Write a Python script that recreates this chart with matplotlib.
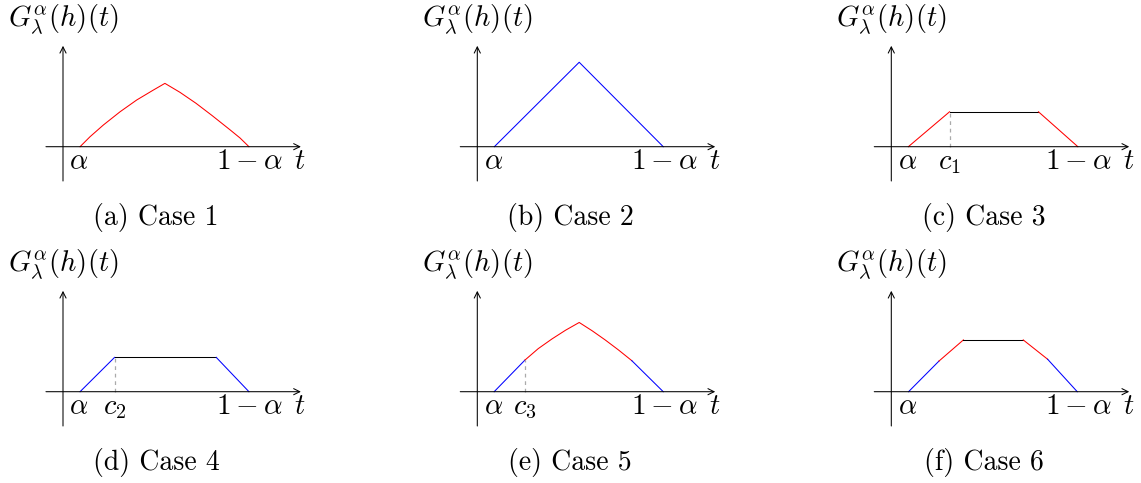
import matplotlib
matplotlib.use("Agg")
import matplotlib.pyplot as plt

plt.rcParams['mathtext.fontset'] = 'cm'

# values, t and G in the same units (origin at axes cross)
alpha = 0.084
one_minus_alpha = 0.916

case1_t = [0.084, 0.133, 0.199, 0.281, 0.363, 0.445, 0.502, 0.576, 0.655, 0.735, 0.823, 0.872, 0.916]
case1_g = [0.0, 0.049, 0.107, 0.172, 0.230, 0.279, 0.312, 0.268, 0.214, 0.153, 0.083, 0.043, 0.0]

case2_t = [0.084, 0.502, 0.916]
case2_g = [0.0, 0.416, 0.0]

case3_c1 = 0.287
case3_t = [0.084, 0.287, 0.725, 0.919]
case3_g = [0.0, 0.172, 0.172, 0.0]

case4_c2 = 0.254
case4_t = [0.084, 0.254, 0.755, 0.916]
case4_g = [0.0, 0.169, 0.169, 0.0]

case5_c3 = 0.235
case5_t = [0.083, 0.235, 0.300, 0.368, 0.435, 0.502, 0.566, 0.630, 0.695, 0.761, 0.916]
case5_g = [0.0, 0.156, 0.212, 0.260, 0.303, 0.341, 0.300, 0.255, 0.206, 0.153, 0.0]

case6_t = [0.085, 0.235, 0.355, 0.650, 0.770, 0.916]
case6_g = [0.0, 0.151, 0.255, 0.255, 0.160, 0.0]

captions = ['(a) Case 1', '(b) Case 2', '(c) Case 3', '(d) Case 4', '(e) Case 5', '(f) Case 6']

W, H = 1141, 483
fig = plt.figure(figsize=(W / 100, H / 100), dpi=100)

scale = 203.0  # px per unit
origins_x = [63, 477.3, 891.3]
origins_y = [146.7, 391.7]
LW = 0.75
FS = 20.5


def make_ax(row, col):
    x0 = origins_x[col]
    y0 = origins_y[row]
    left, right = x0 - 63, x0 + 351
    top, bottom = y0 - 146, y0 + 90
    ax = fig.add_axes([left / W, 1 - bottom / H, (right - left) / W, (bottom - top) / H])
    ax.set_xlim(-63 / scale, 351 / scale)
    ax.set_ylim(-90 / scale, 146 / scale)
    ax.axis('off')
    # axes with arrows
    ax.annotate('', xy=(1.172, 0), xytext=(-0.084, 0),
                arrowprops=dict(arrowstyle='->', lw=LW, color='black',
                                shrinkA=0, shrinkB=0, mutation_scale=11))
    ax.annotate('', xy=(0, 0.497), xytext=(0, -0.169),
                arrowprops=dict(arrowstyle='->', lw=LW, color='black',
                                shrinkA=0, shrinkB=0, mutation_scale=11))
    ax.text(-0.272, 0.625, r'$G^{\alpha}_{\lambda}(h)(t)$', fontsize=FS,
            ha='left', va='center')
    ax.text(0.079, -0.112, r'$\alpha$', fontsize=FS, ha='center', va='baseline')
    ax.text(0.921, -0.112, r'$1-\alpha$', fontsize=FS + 0.5, ha='center', va='baseline')
    ax.text(1.167, -0.112, r'$t$', fontsize=FS, ha='center', va='baseline')
    ax.text(0.458, -0.350, captions[row * 3 + col], fontsize=20,
            family='cmr10', ha='center', va='center')
    return ax


def dashed(ax, c, g, label):
    ax.plot([c, c], [0, g], color='#aaaaaa', lw=0.9, linestyle=(0, (3, 3)))
    ax.text(c, -0.112, label, fontsize=FS, ha='center', va='baseline')


# (a)
ax = make_ax(0, 0)
ax.plot(case1_t, case1_g, color='red', lw=LW)

# (b)
ax = make_ax(0, 1)
ax.plot(case2_t, case2_g, color='blue', lw=LW)

# (c)
ax = make_ax(0, 2)
ax.plot(case3_t[:2], case3_g[:2], color='red', lw=LW)
ax.plot(case3_t[1:3], case3_g[1:3], color='black', lw=LW)
ax.plot(case3_t[2:], case3_g[2:], color='red', lw=LW)
dashed(ax, case3_c1, case3_g[1], r'$c_1$')

# (d)
ax = make_ax(1, 0)
ax.plot(case4_t[:2], case4_g[:2], color='blue', lw=LW)
ax.plot(case4_t[1:3], case4_g[1:3], color='black', lw=LW)
ax.plot(case4_t[2:], case4_g[2:], color='blue', lw=LW)
dashed(ax, case4_c2, case4_g[1], r'$c_2$')

# (e)
ax = make_ax(1, 1)
ax.plot(case5_t[:2], case5_g[:2], color='blue', lw=LW)
ax.plot(case5_t[1:10], case5_g[1:10], color='red', lw=LW)
ax.plot(case5_t[9:], case5_g[9:], color='blue', lw=LW)
dashed(ax, case5_c3, case5_g[1], r'$c_3$')

# (f)
ax = make_ax(1, 2)
ax.plot(case6_t[:2], case6_g[:2], color='blue', lw=LW)
ax.plot(case6_t[1:3], case6_g[1:3], color='red', lw=LW)
ax.plot(case6_t[2:4], case6_g[2:4], color='black', lw=LW)
ax.plot(case6_t[3:5], case6_g[3:5], color='red', lw=LW)
ax.plot(case6_t[4:], case6_g[4:], color='blue', lw=LW)

fig.savefig('out.png', dpi=100)
